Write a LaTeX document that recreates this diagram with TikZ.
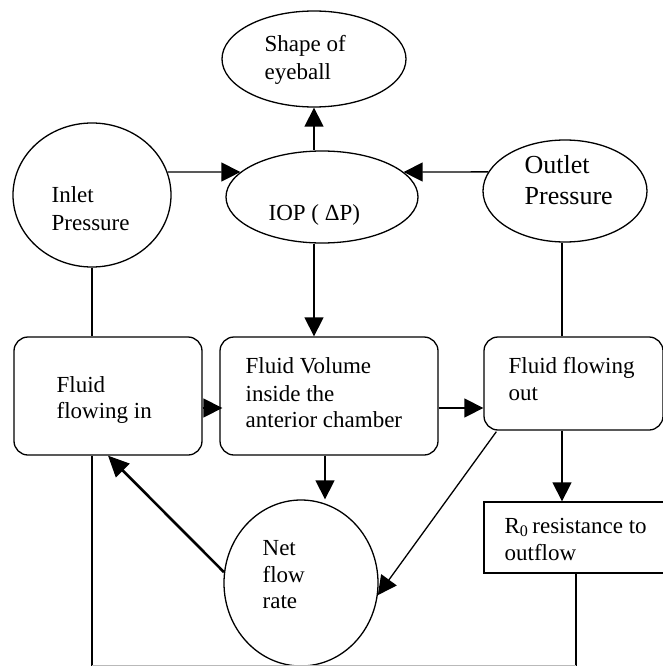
\documentclass[tikz,border=0pt]{standalone}
\usepackage{fontspec}
\setmainfont{Liberation Serif}
\usetikzlibrary{shapes.geometric,arrows.meta,calc}
\begin{document}
\begin{tikzpicture}[x=1pt,y=-1pt,
  line width=1.3pt,
  ell/.style={draw,ellipse,inner sep=0pt},
  rbox/.style={draw,rectangle,rounded corners=14pt,inner sep=0pt},
  sbox/.style={draw,rectangle,inner sep=0pt},
  txt/.style={anchor=base west,inner sep=0pt,font=\fontsize{23}{27}\selectfont},
  bigtxt/.style={txt,font=\fontsize{26}{30}\selectfont},
  arr/.style={-{Triangle[length=19pt,width=19pt]}},
  heavy/.style={line width=2.6pt,-{Triangle[length=21pt,width=19pt]}}
]
\useasboundingbox (0,0) rectangle (663,666);

% pressures and IOP
\node[ell,minimum width=184pt,minimum height=96pt] (shape) at (314,59) {};
\node[ell,minimum width=192pt,minimum height=92pt] (iop) at (322,197) {};
\node[ell,minimum width=158pt,minimum height=144pt] (inlet) at (92,195) {};
\node[ell,minimum width=164pt,minimum height=102pt] (outlet) at (565,191) {};

% fluid boxes
\node[rbox,minimum width=188pt,minimum height=118pt] (fin) at (108,396) {};
\node[rbox,minimum width=218pt,minimum height=118pt] (vol) at (329,396) {};
\node[rbox,minimum width=179pt,minimum height=93pt] (fout) at (573.5,383.5) {};
\node[sbox,minimum width=182pt,minimum height=71pt] (r0) at (575,537.5) {};
\node[ell,minimum width=154pt,minimum height=166pt] (net) at (301,583) {};

% bottom return path
\coordinate (bl) at (92,665.5);
\coordinate (br) at (576,665.5);

% connectors
\draw[arr] (iop.north -| shape.south) -- (shape.south);
\draw[arr] (inlet.17) -- (iop.163);
\draw[arr] (outlet.166) -- (iop.17);
\draw[arr] (iop.south -| shape.south) -- (vol.north -| shape.south);
\draw (inlet.south) -- (inlet.south |- fin.north);
\draw (fout.north -| 562,0) -- (outlet.south -| 562,0);
\draw[arr] ($(fin.east)+(0,12)$) -- ($(vol.west)+(3,12)$);
\draw[arr] ($(vol.east)+(0,12)$) -- ($(fout.west)+(0,24.5)$);
\draw[arr] ($(vol.south)+(-4,0)$) -- ($(vol.south |- net.north)+(-4,0)$);
\draw[heavy] (net.172) -- (fin.south);
\draw[arr] ($(fout.south west)+(13,1)$) -- (net.-9);
\draw[arr] (fout.south -| 562,0) -- (r0.north -| 562,0);
\draw (fin.south -| bl) -- (bl);
\draw (r0.south -| br) -- (br);
\draw[gray!55,line width=1pt] (bl) -- (br);

% labels
\node[txt] (shape1) at (264,52) {Shape of};
\node[txt] (shape2) at (264,80) {eyeball};
\node[txt] (iopt) at (268,220) {IOP ( ΔP)};
\node[txt] (inlet1) at (51,202) {Inlet};
\node[txt] (inlet2) at (51,230) {Pressure};
\node[bigtxt] (outlet1) at (524,173) {Outlet};
\node[bigtxt] (outlet2) at (524,204) {Pressure};
\node[txt] (fin1) at (56,392) {Fluid};
\node[txt] (fin2) at (56,418) {flowing in};
\node[txt] (vol1) at (245,373) {Fluid Volume};
\node[txt] (vol2) at (245,401) {inside the};
\node[txt] (vol3) at (245,427) {anterior chamber};
\node[txt] (fout1) at (508,373) {Fluid flowing};
\node[txt] (fout2) at (508,400) {out};
\node[txt] (r01) at (504,533) {R\textsubscript{0}\,resistance to};
\node[txt] (r02) at (504,560) {outflow};
\node[txt] (net1) at (262,555) {Net};
\node[txt] (net2) at (262,582) {flow};
\node[txt] (net3) at (262,608) {rate};
\end{tikzpicture}
\end{document}
